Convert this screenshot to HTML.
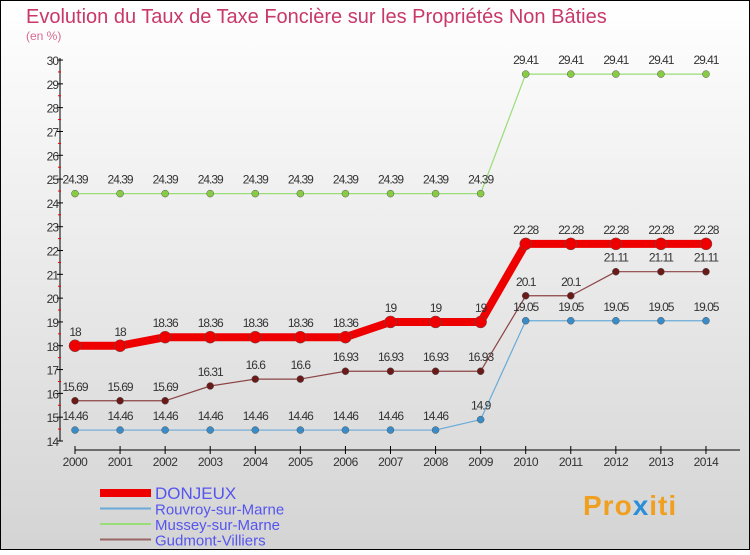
<!DOCTYPE html>
<html><head><meta charset="utf-8"><style>
html,body{margin:0;padding:0;}
body{width:750px;height:550px;overflow:hidden;font-family:"Liberation Sans",sans-serif;}
</style></head><body>
<svg id="chart" width="750" height="550" xmlns="http://www.w3.org/2000/svg">
<defs><linearGradient id="bg" x1="0" y1="0" x2="0" y2="1"><stop offset="0" stop-color="#ffffff"/><stop offset="1" stop-color="#d4d4d4"/></linearGradient></defs>
<rect x="0.5" y="0.5" width="749" height="549" fill="url(#bg)" stroke="#000"/>
<text x="26" y="23" font-size="20" fill="#c8386a">Evolution du Taux de Taxe Foncière sur les Propriétés Non Bâties</text>
<text x="26" y="40" font-size="12" fill="#d46a90">(en %)</text>
<g id="axes"></g><g id="series"></g><g id="legend"></g>
<text x="583" y="515" font-size="28" font-weight="bold" fill="#f0a020" letter-spacing="1">Pro<tspan fill="#2a8fd8">x</tspan>iti</text>
</svg>
<script>
const years=[2000,2001,2002,2003,2004,2005,2006,2007,2008,2009,2010,2011,2012,2013,2014];
const yTicks=[14,15,16,17,18,19,20,21,22,23,24,25,26,27,28,29,30];
const donjeux=[18,18,18.36,18.36,18.36,18.36,18.36,19,19,19,22.28,22.28,22.28,22.28,22.28];
const rouvroy=[14.46,14.46,14.46,14.46,14.46,14.46,14.46,14.46,14.46,14.9,19.05,19.05,19.05,19.05,19.05];
const mussey=[24.39,24.39,24.39,24.39,24.39,24.39,24.39,24.39,24.39,24.39,29.41,29.41,29.41,29.41,29.41];
const gudmont=[15.69,15.69,15.69,16.31,16.6,16.6,16.93,16.93,16.93,16.93,20.1,20.1,21.11,21.11,21.11];
const NS="http://www.w3.org/2000/svg";
function X(i){return 75+i*45.07;}
function Y(v){return 441-(v-14)*23.81;}
function mk(tag,attrs,parent,txt){const e=document.createElementNS(NS,tag);for(const k in attrs)e.setAttribute(k,attrs[k]);if(txt!==undefined)e.textContent=txt;parent.appendChild(e);return e;}
const ax=document.getElementById('axes');
let e=mk('line',{x1:60,y1:58,x2:60,y2:441,stroke:'#000'},ax);


e=mk('line',{x1:75,y1:450,x2:740,y2:450,stroke:'#000'},ax);


yTicks.forEach(t=>{
  mk('line',{x1:57,y1:Y(t),x2:63,y2:Y(t),stroke:'#000'},ax);
  if(t<30) mk('line',{x1:58,y1:Y(t+0.5),x2:61,y2:Y(t+0.5),stroke:'#e00'},ax);
  e=mk('text',{x:58,y:Y(t)+5,'font-size':12,'text-anchor':'end',fill:'#333','letter-spacing':'-1'},ax,String(t));
  
  
});
years.forEach((y,i)=>{
  mk('line',{x1:X(i),y1:446,x2:X(i),y2:454,stroke:'#000'},ax);
  e=mk('text',{x:X(i),y:466,'font-size':12,'text-anchor':'middle',fill:'#333','letter-spacing':'-0.5'},ax,String(y));
  
  
});
const sg=document.getElementById('series');
function series(name,data,color,w,r,dot,lab){
  const g=mk('g',{},sg);
  
  
  mk('polyline',{points:data.map((v,i)=>X(i)+','+Y(v)).join(' '),fill:'none',stroke:color,'stroke-width':w,'stroke-linejoin':'round'},g);
  data.forEach((v,i)=>{
    const c=mk('circle',{cx:X(i),cy:Y(v),r:r,fill:dot,stroke:'#555','stroke-width':0.5},g);
    
    
    const t=mk('text',{x:X(i),y:Y(v)-10,'font-size':12,'text-anchor':'middle',fill:'#333','letter-spacing':'-1'},g,String(v));
    
    
  });
}
series('mussey',mussey,'#99dd77',1.2,3.5,'#88cc44');
series('gudmont',gudmont,'#8b4444',1.2,3.5,'#6b1a1a');
series('rouvroy',rouvroy,'#6aaad8',1.2,3.5,'#3a8cc8');
series('donjeux',donjeux,'#ee0000',8,6,'#ee0000');
const lg=document.getElementById('legend');
const leg=[['DONJEUX','#ee0000',8],['Rouvroy-sur-Marne','#6aaad8',2],['Mussey-sur-Marne','#99dd77',2],['Gudmont-Villiers','#996666',2]];
leg.forEach((l,i)=>{
  const y=493+i*15.5;
  const g=mk('g',{},lg);
  
  
  mk('line',{x1:100,y1:y,x2:151,y2:y,stroke:l[1],'stroke-width':l[2]},g);
  mk('text',{x:155,y:y+6,'font-size':i==0?17:15,fill:'#5555ee'},g,l[0]);
});
</script>
</body></html>
